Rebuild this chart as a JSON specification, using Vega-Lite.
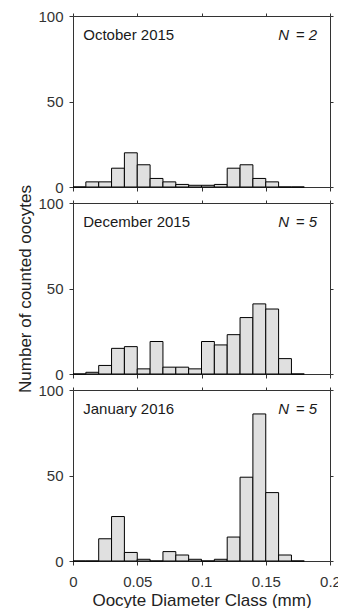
{
  "$schema": "https://vega.github.io/schema/vega-lite/v6.json",
  "padding": {"left": 16, "top": 9, "right": 0, "bottom": 0},
  "bounds": "flush",
  "spacing": 16,
  "config": {
    "font": "Liberation Sans",
    "view": {"stroke": null},
    "axis": {
      "domainColor": "#333333",
      "domainWidth": 1,
      "tickColor": "#333333",
      "tickWidth": 1,
      "tickSize": 4,
      "grid": false,
      "labelFont": "Liberation Sans",
      "labelFontSize": 15,
      "labelColor": "#333333",
      "titleFont": "Liberation Sans",
      "titleFontSize": 17,
      "titleFontWeight": "normal",
      "titleColor": "#222222"
    }
  },
  "datasets": {
    "bins": [
      {"month": "October 2015", "lo": 0.00, "hi": 0.01, "n": 0},
      {"month": "October 2015", "lo": 0.01, "hi": 0.02, "n": 3},
      {"month": "October 2015", "lo": 0.02, "hi": 0.03, "n": 3},
      {"month": "October 2015", "lo": 0.03, "hi": 0.04, "n": 11},
      {"month": "October 2015", "lo": 0.04, "hi": 0.05, "n": 20},
      {"month": "October 2015", "lo": 0.05, "hi": 0.06, "n": 13},
      {"month": "October 2015", "lo": 0.06, "hi": 0.07, "n": 5},
      {"month": "October 2015", "lo": 0.07, "hi": 0.08, "n": 3},
      {"month": "October 2015", "lo": 0.08, "hi": 0.09, "n": 1.5},
      {"month": "October 2015", "lo": 0.09, "hi": 0.10, "n": 1},
      {"month": "October 2015", "lo": 0.10, "hi": 0.11, "n": 1},
      {"month": "October 2015", "lo": 0.11, "hi": 0.12, "n": 1.5},
      {"month": "October 2015", "lo": 0.12, "hi": 0.13, "n": 11},
      {"month": "October 2015", "lo": 0.13, "hi": 0.14, "n": 13},
      {"month": "October 2015", "lo": 0.14, "hi": 0.15, "n": 5},
      {"month": "October 2015", "lo": 0.15, "hi": 0.16, "n": 3},
      {"month": "October 2015", "lo": 0.16, "hi": 0.17, "n": 0},
      {"month": "October 2015", "lo": 0.17, "hi": 0.18, "n": 0},
      {"month": "December 2015", "lo": 0.00, "hi": 0.01, "n": 0},
      {"month": "December 2015", "lo": 0.01, "hi": 0.02, "n": 1},
      {"month": "December 2015", "lo": 0.02, "hi": 0.03, "n": 5},
      {"month": "December 2015", "lo": 0.03, "hi": 0.04, "n": 15},
      {"month": "December 2015", "lo": 0.04, "hi": 0.05, "n": 16},
      {"month": "December 2015", "lo": 0.05, "hi": 0.06, "n": 3},
      {"month": "December 2015", "lo": 0.06, "hi": 0.07, "n": 19},
      {"month": "December 2015", "lo": 0.07, "hi": 0.08, "n": 4},
      {"month": "December 2015", "lo": 0.08, "hi": 0.09, "n": 4},
      {"month": "December 2015", "lo": 0.09, "hi": 0.10, "n": 3},
      {"month": "December 2015", "lo": 0.10, "hi": 0.11, "n": 19},
      {"month": "December 2015", "lo": 0.11, "hi": 0.12, "n": 17},
      {"month": "December 2015", "lo": 0.12, "hi": 0.13, "n": 23},
      {"month": "December 2015", "lo": 0.13, "hi": 0.14, "n": 33},
      {"month": "December 2015", "lo": 0.14, "hi": 0.15, "n": 41},
      {"month": "December 2015", "lo": 0.15, "hi": 0.16, "n": 38},
      {"month": "December 2015", "lo": 0.16, "hi": 0.17, "n": 9},
      {"month": "December 2015", "lo": 0.17, "hi": 0.18, "n": 0},
      {"month": "January 2016", "lo": 0.00, "hi": 0.01, "n": 0},
      {"month": "January 2016", "lo": 0.01, "hi": 0.02, "n": 0},
      {"month": "January 2016", "lo": 0.02, "hi": 0.03, "n": 13},
      {"month": "January 2016", "lo": 0.03, "hi": 0.04, "n": 26},
      {"month": "January 2016", "lo": 0.04, "hi": 0.05, "n": 5},
      {"month": "January 2016", "lo": 0.05, "hi": 0.06, "n": 1},
      {"month": "January 2016", "lo": 0.06, "hi": 0.07, "n": 0},
      {"month": "January 2016", "lo": 0.07, "hi": 0.08, "n": 5.5},
      {"month": "January 2016", "lo": 0.08, "hi": 0.09, "n": 3.5},
      {"month": "January 2016", "lo": 0.09, "hi": 0.10, "n": 1},
      {"month": "January 2016", "lo": 0.10, "hi": 0.11, "n": 0},
      {"month": "January 2016", "lo": 0.11, "hi": 0.12, "n": 1},
      {"month": "January 2016", "lo": 0.12, "hi": 0.13, "n": 14},
      {"month": "January 2016", "lo": 0.13, "hi": 0.14, "n": 49},
      {"month": "January 2016", "lo": 0.14, "hi": 0.15, "n": 86},
      {"month": "January 2016", "lo": 0.15, "hi": 0.16, "n": 40},
      {"month": "January 2016", "lo": 0.16, "hi": 0.17, "n": 3.5},
      {"month": "January 2016", "lo": 0.17, "hi": 0.18, "n": 0}
    ],
    "labels": [
      {"month": "October 2015", "nlab": "= 2"},
      {"month": "December 2015", "nlab": "= 5"},
      {"month": "January 2016", "nlab": "= 5"}
    ]
  },
  "vconcat": [
    {
      "width": 257,
      "height": 171,
      "layer": [
        {
          "data": {"name": "bins"},
          "transform": [{"filter": "datum.month === 'October 2015'"}],
          "mark": {"type": "bar", "fill": "#e0e0e0", "stroke": "#000000", "strokeWidth": 1},
          "encoding": {
            "x": {"field": "lo", "type": "quantitative", "scale": {"domain": [0, 0.2], "nice": false, "zero": false},
                  "axis": {"orient": "bottom", "values": [0, 0.05, 0.1, 0.15, 0.2], "labels": false, "title": null}},
            "x2": {"field": "hi"},
            "y": {"field": "n", "type": "quantitative", "scale": {"domain": [0, 100], "nice": false},
                  "axis": {"orient": "left", "values": [0, 50, 100], "labelPadding": 6, "title": null}},
            "y2": {"datum": 0}
          }
        },
        {
          "data": {"name": "labels"},
          "transform": [{"filter": "datum.month === 'October 2015'"}],
          "mark": {"type": "text", "align": "left", "baseline": "middle", "fontSize": 15, "color": "#1a1a1a"},
          "encoding": {
            "x": {"datum": 0.008, "type": "quantitative", "axis": {"orient": "top", "values": [0, 0.05, 0.1, 0.15, 0.2], "labels": false, "title": null, "tickSize": 3}},
            "y": {"datum": 89, "type": "quantitative", "axis": {"orient": "right", "values": [0, 50, 100], "labels": false, "title": null, "tickSize": 3}},
            "text": {"field": "month"}
          }
        },
        {
          "data": {"name": "labels"},
          "transform": [{"filter": "datum.month === 'October 2015'"}],
          "mark": {"type": "text", "align": "right", "baseline": "middle", "fontSize": 15, "fontStyle": "italic", "dx": -28, "color": "#1a1a1a"},
          "encoding": {
            "x": {"datum": 0.19, "type": "quantitative", "axis": null},
            "y": {"datum": 89, "type": "quantitative", "axis": null},
            "text": {"value": "N"}
          }
        },
        {
          "data": {"name": "labels"},
          "transform": [{"filter": "datum.month === 'October 2015'"}],
          "mark": {"type": "text", "align": "right", "baseline": "middle", "fontSize": 15, "fontStyle": "italic", "color": "#1a1a1a"},
          "encoding": {
            "x": {"datum": 0.19, "type": "quantitative", "axis": null},
            "y": {"datum": 89, "type": "quantitative", "axis": null},
            "text": {"field": "nlab"}
          }
        }
      ],
      "resolve": {"axis": {"x": "independent", "y": "independent"}}
    },
    {
      "width": 257,
      "height": 171,
      "layer": [
        {
          "data": {"name": "bins"},
          "transform": [{"filter": "datum.month === 'December 2015'"}],
          "mark": {"type": "bar", "fill": "#e0e0e0", "stroke": "#000000", "strokeWidth": 1},
          "encoding": {
            "x": {"field": "lo", "type": "quantitative", "scale": {"domain": [0, 0.2], "nice": false, "zero": false},
                  "axis": {"orient": "bottom", "values": [0, 0.05, 0.1, 0.15, 0.2], "labels": false, "title": null}},
            "x2": {"field": "hi"},
            "y": {"field": "n", "type": "quantitative", "scale": {"domain": [0, 100], "nice": false},
                  "axis": {"orient": "left", "values": [0, 50, 100], "labelPadding": 6, "title": "Number of counted oocytes", "titlePadding": 3}},
            "y2": {"datum": 0}
          }
        },
        {
          "data": {"name": "labels"},
          "transform": [{"filter": "datum.month === 'December 2015'"}],
          "mark": {"type": "text", "align": "left", "baseline": "middle", "fontSize": 15, "color": "#1a1a1a"},
          "encoding": {
            "x": {"datum": 0.008, "type": "quantitative", "axis": {"orient": "top", "values": [0, 0.05, 0.1, 0.15, 0.2], "labels": false, "title": null, "tickSize": 3}},
            "y": {"datum": 89, "type": "quantitative", "axis": {"orient": "right", "values": [0, 50, 100], "labels": false, "title": null, "tickSize": 3}},
            "text": {"field": "month"}
          }
        },
        {
          "data": {"name": "labels"},
          "transform": [{"filter": "datum.month === 'December 2015'"}],
          "mark": {"type": "text", "align": "right", "baseline": "middle", "fontSize": 15, "fontStyle": "italic", "dx": -28, "color": "#1a1a1a"},
          "encoding": {
            "x": {"datum": 0.19, "type": "quantitative", "axis": null},
            "y": {"datum": 89, "type": "quantitative", "axis": null},
            "text": {"value": "N"}
          }
        },
        {
          "data": {"name": "labels"},
          "transform": [{"filter": "datum.month === 'December 2015'"}],
          "mark": {"type": "text", "align": "right", "baseline": "middle", "fontSize": 15, "fontStyle": "italic", "color": "#1a1a1a"},
          "encoding": {
            "x": {"datum": 0.19, "type": "quantitative", "axis": null},
            "y": {"datum": 89, "type": "quantitative", "axis": null},
            "text": {"field": "nlab"}
          }
        }
      ],
      "resolve": {"axis": {"x": "independent", "y": "independent"}}
    },
    {
      "width": 257,
      "height": 171,
      "layer": [
        {
          "data": {"name": "bins"},
          "transform": [{"filter": "datum.month === 'January 2016'"}],
          "mark": {"type": "bar", "fill": "#e0e0e0", "stroke": "#000000", "strokeWidth": 1},
          "encoding": {
            "x": {"field": "lo", "type": "quantitative", "scale": {"domain": [0, 0.2], "nice": false, "zero": false},
                  "axis": {"orient": "bottom", "values": [0, 0.05, 0.1, 0.15, 0.2], "format": "~g", "labelPadding": 9, "labelFlush": false, "title": "Oocyte Diameter Class (mm)", "titlePadding": 3}},
            "x2": {"field": "hi"},
            "y": {"field": "n", "type": "quantitative", "scale": {"domain": [0, 100], "nice": false},
                  "axis": {"orient": "left", "values": [0, 50, 100], "labelPadding": 6, "title": null}},
            "y2": {"datum": 0}
          }
        },
        {
          "data": {"name": "labels"},
          "transform": [{"filter": "datum.month === 'January 2016'"}],
          "mark": {"type": "text", "align": "left", "baseline": "middle", "fontSize": 15, "color": "#1a1a1a"},
          "encoding": {
            "x": {"datum": 0.008, "type": "quantitative", "axis": {"orient": "top", "values": [0, 0.05, 0.1, 0.15, 0.2], "labels": false, "title": null, "tickSize": 3}},
            "y": {"datum": 89, "type": "quantitative", "axis": {"orient": "right", "values": [0, 50, 100], "labels": false, "title": null, "tickSize": 3}},
            "text": {"field": "month"}
          }
        },
        {
          "data": {"name": "labels"},
          "transform": [{"filter": "datum.month === 'January 2016'"}],
          "mark": {"type": "text", "align": "right", "baseline": "middle", "fontSize": 15, "fontStyle": "italic", "dx": -28, "color": "#1a1a1a"},
          "encoding": {
            "x": {"datum": 0.19, "type": "quantitative", "axis": null},
            "y": {"datum": 89, "type": "quantitative", "axis": null},
            "text": {"value": "N"}
          }
        },
        {
          "data": {"name": "labels"},
          "transform": [{"filter": "datum.month === 'January 2016'"}],
          "mark": {"type": "text", "align": "right", "baseline": "middle", "fontSize": 15, "fontStyle": "italic", "color": "#1a1a1a"},
          "encoding": {
            "x": {"datum": 0.19, "type": "quantitative", "axis": null},
            "y": {"datum": 89, "type": "quantitative", "axis": null},
            "text": {"field": "nlab"}
          }
        }
      ],
      "resolve": {"axis": {"x": "independent", "y": "independent"}}
    }
  ]
}
